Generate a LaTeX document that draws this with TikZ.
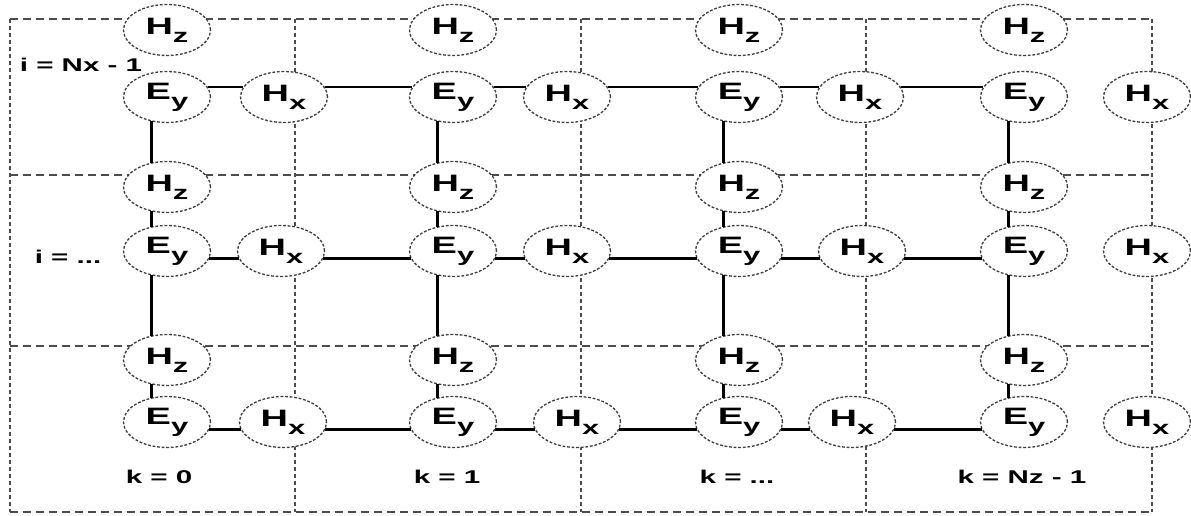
\documentclass[tikz,border=0pt]{standalone}
\usepackage{fontspec}
\newfontfamily\widesans[FakeStretch=1.6]{Liberation Sans}
\newcommand\lowsub[1]{\raisebox{-4.5pt}{\fontsize{11}{11}\selectfont #1}}
\usetikzlibrary{shapes.geometric}

\begin{document}
\begin{tikzpicture}[x=0.02cm, y=-0.02cm, font=\widesans\bfseries,
    field/.style={ellipse, draw=black!75, dash pattern=on 1.6pt off 1pt, line width=0.75pt, fill=white,
      minimum width=1.74cm, minimum height=1.02cm, inner sep=0pt,
      font=\widesans\bfseries\fontsize{13.5}{14}\selectfont},
    cellh/.style={draw=black!70, line width=0.75pt, dash pattern=on 0.16cm off 0.1cm},
    cellv/.style={draw=black!70, line width=0.75pt, dash pattern=on 0.08cm off 0.06cm},
    link/.style={line width=1.4pt},
    rung/.style={line width=1.8pt},
    index/.style={font=\widesans\bfseries\fontsize{10.5}{12}\selectfont}]
    \useasboundingbox (0,0) rectangle (1191,516);
    % dashed cells
    \foreach \y in {19,175,346,512} \draw[cellh] (10,\y) -- (1152,\y);
    \foreach \x in {10,295,581,866,1152} \draw[cellv] (\x,19) -- (\x,512);
    % field components
    \foreach \c/\x in {1/167,2/453,3/739,4/1024} {
        \foreach \r/\y in {1/30,2/187,3/360} \node[field] (hz\r\c) at (\x,\y) {H\lowsub{z}};
        \foreach \r/\y in {1/97,2/251,3/422} \node[field] (ey\r\c) at (\x,\y) {E\lowsub{y}};
    }
    \foreach \r/\y/\xa/\xb/\xc in {1/97/284/567/860, 2/251/281/567/862, 3/422/283/577/852} {
        \node[field] (hx\r1) at (\xa,\y) {H\lowsub{x}};
        \node[field] (hx\r2) at (\xb,\y) {H\lowsub{x}};
        \node[field] (hx\r3) at (\xc,\y) {H\lowsub{x}};
        \node[field] (hx\r4) at (1147,\y) {H\lowsub{x}};
    }
    % links along k
    \foreach \r/\a in {1/14,2/-10,3/-10} {
        \pgfmathtruncatemacro\b{180-\a}
        \foreach \c in {1,2,3} {
            \pgfmathtruncatemacro\d{\c+1}
            \draw[link] (ey\r\c.\a) -- (hx\r\c.\b);
            \draw[link] (hx\r\c.\a) -- (ey\r\d.\b);
        }
    }
    % links along i
    \foreach \c in {1,...,4} {
        \draw[rung] (ey1\c.-123) -- (hz2\c.123);
        \draw[rung] (hz2\c.-123) -- (ey2\c.123);
        \draw[rung] (ey2\c.-123) -- (hz3\c.123);
        \draw[rung] (hz3\c.-123) -- (ey3\c.123);
    }
    \node[index] (irow1) at (81,65) {i = Nx - 1};
    \node[index] (irow2) at (68,257) {i = ...};
    \node[index] (kcol1) at (159,477) {k = 0};
    \node[index] (kcol2) at (447,477) {k = 1};
    \node[index] (kcol3) at (737,477) {k = ...};
    \node[index] (kcol4) at (1022,477) {k = Nz - 1};
\end{tikzpicture}
\end{document}
